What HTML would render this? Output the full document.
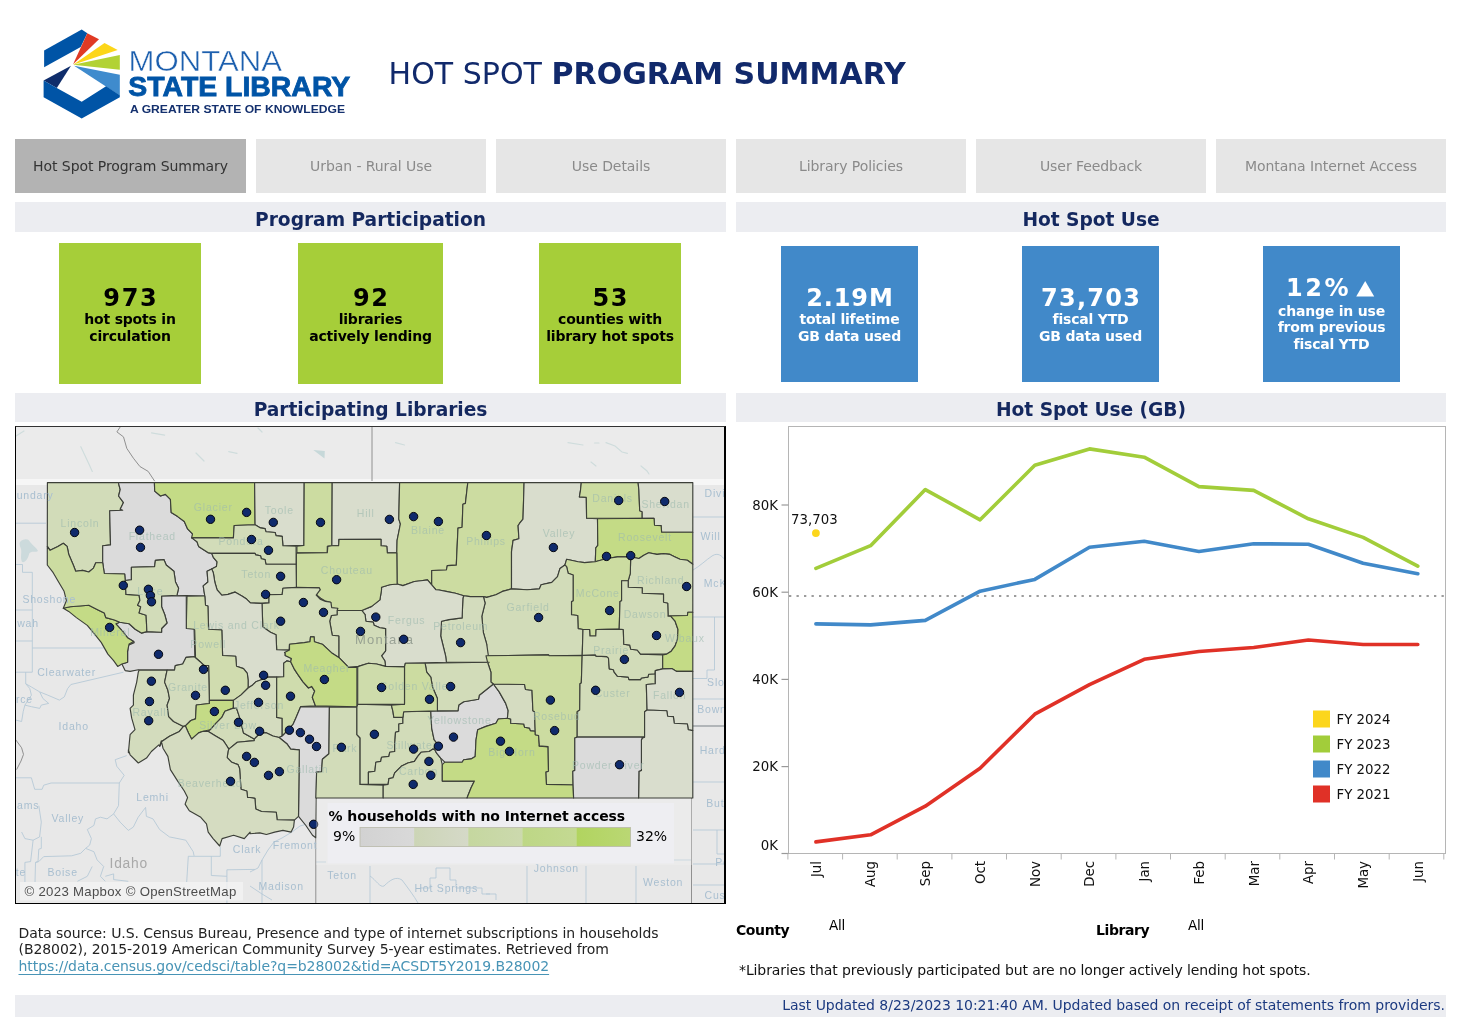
<!DOCTYPE html>
<html lang="en">
<head>
<meta charset="utf-8">
<title>Hot Spot Program Summary</title>
<style>
html,body{margin:0;padding:0;background:#fff;}
body{width:1461px;height:1034px;position:relative;overflow:hidden;font-family:"DejaVu Sans","Liberation Sans",sans-serif;color:#222;}
.abs{position:absolute;}
.tab{position:absolute;top:139px;height:54px;background:#e6e6e6;color:#8a8a8a;font-size:14px;line-height:55px;text-align:center;letter-spacing:-0.07px;}
.tab.sel{background:#b3b3b3;color:#333;}
.hdr{position:absolute;height:29px;background:#ecedf1;color:#14285f;font-weight:bold;font-size:18.67px;line-height:33px;text-align:center;letter-spacing:-0.05px;}
.kpi{position:absolute;text-align:center;font-weight:bold;}
.kpi.g{background:#a6ce39;color:#000;width:142px;height:141px;top:243px;}
.kpi.b{background:#4189c9;color:#fff;width:137px;height:136px;top:246px;}
.kpi .n{position:absolute;left:-20px;right:-20px;font-size:24px;line-height:28px;letter-spacing:0.9px;text-indent:0.9px;}
.kpi .t{position:absolute;left:-20px;right:-20px;font-size:14px;line-height:17px;letter-spacing:-0.2px;}
.small{font-size:14px;}
</style>
</head>
<body>

<!-- LOGO -->
<svg class="abs" style="left:0;top:0" width="380" height="135" viewBox="0 0 380 135">
  <polygon points="44.1,50.5 81.7,29.6 87.3,33.2 80.7,46.9 44.1,67.2" fill="#0054a6"/>
  <polygon points="87.3,33.2 99,39.3 73.1,64.2" fill="#e03a24"/>
  <polygon points="104.5,43.1 117.7,49.9 73.1,64.7" fill="#fcd619"/>
  <polygon points="119.8,55 119.8,69.7 73.1,64.7" fill="#b2d234"/>
  <polygon points="74.1,65.7 119.8,74.8 119.8,95.6" fill="#3f8bcd"/>
  <polygon points="71,65.7 43.6,80.4 56.8,88" fill="#0f2d6b"/>
  <polygon points="43.6,80.4 56.8,88 81.7,101.7 106.1,86.2 119.8,95.2 119.8,97.2 81.7,118.5 43.6,97.2" fill="#0054a6"/>
  <text x="128.6" y="71.1" font-family="Liberation Sans, sans-serif" font-size="28.7" fill="#1c5fae" textLength="153.5" lengthAdjust="spacingAndGlyphs" stroke="#fff" stroke-width="0.45">MONTANA</text>
  <text x="128.3" y="95.6" font-family="Liberation Sans, sans-serif" font-weight="bold" font-size="27.4" fill="#0054a6" stroke="#0054a6" stroke-width="0.8" textLength="222" lengthAdjust="spacingAndGlyphs">STATE LIBRARY</text>
  <text x="130" y="113" font-family="Liberation Sans, sans-serif" font-weight="bold" font-size="10.3" fill="#14306e" textLength="215" lengthAdjust="spacingAndGlyphs">A GREATER STATE OF KNOWLEDGE</text>
</svg>

<div class="abs" id="title" style="left:388.6px;top:53.7px;font-size:30px;line-height:40px;color:#11296b;white-space:nowrap;letter-spacing:0.03px;">HOT SPOT <b>PROGRAM SUMMARY</b></div>

<!-- TABS -->
<div class="tab sel" style="left:15px;width:231px;">Hot Spot Program Summary</div>
<div class="tab" style="left:256px;width:230px;">Urban - Rural Use</div>
<div class="tab" style="left:496px;width:230px;">Use Details</div>
<div class="tab" style="left:736px;width:230px;">Library Policies</div>
<div class="tab" style="left:976px;width:230px;">User Feedback</div>
<div class="tab" style="left:1216px;width:230px;">Montana Internet Access</div>

<!-- HEADERS -->
<div class="hdr" style="left:15px;width:711px;top:202px;height:30px;line-height:35px;">Program Participation</div>
<div class="hdr" style="left:736px;width:710px;top:202px;height:30px;line-height:35px;">Hot Spot Use</div>
<div class="hdr" style="left:15px;width:711px;top:393px;">Participating Libraries</div>
<div class="hdr" style="left:736px;width:710px;top:393px;">Hot Spot Use (GB)</div>

<!-- KPIs -->
<div class="kpi g" style="left:59px;"><div class="n" style="top:40.7px;letter-spacing:1.7px;text-indent:1.7px;">973</div><div class="t" style="top:68px;">hot spots in<br>circulation</div></div>
<div class="kpi g" style="left:298px;width:145px;"><div class="n" style="top:40.7px;letter-spacing:1.7px;text-indent:1.7px;">92</div><div class="t" style="top:68px;">libraries<br>actively lending</div></div>
<div class="kpi g" style="left:539px;"><div class="n" style="top:40.7px;letter-spacing:1.7px;text-indent:1.7px;">53</div><div class="t" style="top:68px;">counties with<br>library hot spots</div></div>

<div class="kpi b" style="left:781px;"><div class="n" style="top:37.7px;">2.19M</div><div class="t" style="top:65.2px;">total lifetime<br>GB data used</div></div>
<div class="kpi b" style="left:1022px;"><div class="n" style="top:37.7px;letter-spacing:1.3px;text-indent:1.3px;">73,703</div><div class="t" style="top:65.2px;">fiscal YTD<br>GB data used</div></div>
<div class="kpi b" style="left:1263px;"><div class="n" style="top:28px;letter-spacing:2.6px;text-indent:-26px;">12%</div><svg class="abs" style="left:92.5px;top:35.3px" width="19" height="16" viewBox="0 0 19 16"><polygon points="9.2,0 18.2,15.6 0.2,15.6" fill="#fff"/></svg><div class="t" style="top:56.7px;line-height:16.4px;">change in use<br>from previous<br>fiscal YTD</div></div>

<!-- MAP -->
<div class="abs" id="map" style="left:15px;top:426px;width:708px;height:476px;border:1px solid #000;border-right-width:2px;border-top-color:#333;background:#e9e9e9;overflow:hidden;">
<!--MAPSVG-->
<svg width="708" height="476" viewBox="16 427 708 476" style="display:block">
<rect x="15" y="426" width="712" height="478" fill="#e8e8e8"/>
<rect x="15" y="426" width="712" height="54" fill="#ebebeb"/>
<line x1="15" y1="482" x2="727" y2="482" stroke="#f6f6f6" stroke-width="6"/>
<g stroke="#b4c8d6" stroke-width="0.85" fill="none">
<path d="M15,523.2H46"/>
<path d="M15,564.5H22.5V572.3H32.3V590"/>
<path d="M32.3,590V672.2H15"/>
<path d="M15,610H32.3"/>
<path d="M15,641H32.3"/>
<path d="M32.3,648H103.8"/>
<path d="M25.7,672.2V683.7"/>
<path d="M25.7,683.7L31.4,687 39.7,691.9 47.9,695.2 59.4,700.1 64.3,696.9 67.6,688.6 70.9,684.5 123.5,672.2"/>
<path d="M25.7,683.7L29.8,688.6 31.4,695.2 24.9,705.1 23.2,711.6 21.6,721.5 15,719.9"/>
<path d="M39.7,691.9L42.9,698.5 48.7,703.4 41.3,705.1 39.7,708.4 31.4,706.7 24.9,705.1"/>
<path d="M15,777.8H31.4L34.7,789.3H42.1L43.7,785.2 51.1,783H119.3"/>
<path d="M126.7,755.6L115.2,759.7 116.8,766.3 124.2,775.3 119.3,783 118.5,805.7 113.6,813.9 107,818.9 100.4,817.2 95.5,818.9 93.9,825.4 87.3,829.5 91.4,838.6 89.7,845.1 85.6,848.4 80.7,853.3 71.7,855.8 43.7,856.6 38.8,861.6 35.5,862.4 35,882"/>
<path d="M113.6,813.9L120.1,822.1 128.3,830.4 133.3,827.1 138.2,817.2 145.6,807.4 146.4,816.4 153,818.9 159.6,829.5 169.4,836.9 185.8,840.2 193.2,851.7 194.1,855.8"/>
<path d="M85.6,848.4L93.9,851.7 97.1,859.9 103.7,866.5 100.4,876.3 105.3,881.3"/>
<path d="M92.2,866.5L87.3,876.3 77.4,881.3"/>
<path d="M105.3,876.3L113.6,873.9V879.6L128.3,881.3"/>
<path d="M38.8,805.7L41.3,822.1 39.6,836.9 33.1,840.2 24.9,838.6 21.6,832"/>
<path d="M41.3,836.9V848.4L38.8,849.2 38,861.6 35.5,862.4"/>
<path d="M33.1,840.2L30.6,861.6 24.9,862.4V882"/>
<path d="M186.7,882L188.3,856.3H220.3V846.8"/>
<path d="M211.3,856.3V875.5L226.9,876.3V869.8L254.8,869.4"/>
<path d="M226.9,876.3V903"/>
<path d="M316,862H326"/>
<path d="M262,903V860L268,850 274,842 282,838 292,832 300,826 314,822"/>
<path d="M250,872L258,868 262,860"/>
<path d="M250,886L262,894 272,900"/>
<path d="M370,866V903"/>
<path d="M370,876C376,880 380,888 384,886 390,880 396,876 402,880 408,888 414,896 418,903"/>
<path d="M420,888H430V878H436V868H450V880H456V888H482V894H490"/>
<path d="M527,866V903"/>
<path d="M586,866V903"/>
<path d="M636,866V903"/>
<path d="M486,894H496V900"/>
<path d="M674,860H691"/>
<path d="M693,782H725"/>
<path d="M693,517H725"/>
<path d="M693,617H725"/>
<path d="M714.5,617V670H707V678.5H693"/>
<path d="M693,699H725"/>
<path d="M693,726H725"/>
<path d="M693,830H725"/>
<path d="M717,830V854H725"/>
<path d="M693,864H725"/>
<path d="M693,885H725"/>
<path d="M693,570C700,566 706,560 712,556 718,552 722,556 725,560"/>
</g>
<g stroke="#909090" stroke-width="1" fill="none">
<line x1="372" y1="427" x2="372" y2="481"/>
<path d="M120.2,427L116.9,431.9 123.5,436.9 126.8,448.4 133.4,458.2 139.9,466.5 148.2,471.4 154.7,481.2"/>
<line x1="315.8" y1="798" x2="315.8" y2="904"/>
<line x1="691.5" y1="798" x2="691.5" y2="904"/>
<line x1="693" y1="726" x2="727" y2="726"/>
<path d="M15,738.8L21.6,747.8 23.5,754.4 21,761 16.6,769.6"/>
</g>
<g fill="none" stroke="#c6d8d8" stroke-width="1.2" stroke-linecap="round" opacity="0.75">
<path d="M80.8,446.7L88,462 92.3,471.4"/>
<path d="M151.5,432.8L164.6,435.2"/>
<path d="M196,453L204,461"/>
<path d="M228.7,451.7L237,453.3"/>
<path d="M395.5,442.6L404.5,445"/>
<path d="M568,442.6L583,445"/>
<path d="M594.5,443H599"/>
<path d="M606,442.6L615,446 622,452 627.4,453.3"/>
<path d="M591,462L596,466"/>
<path d="M641,466L647,471 649,474"/>
<path d="M16,436L24,431"/>
<path d="M258,428L262,432"/>
</g>
<path d="M313.3,450L324.8,451 324.5,458.5Z" fill="#c6d8d9"/>
<path d="M20,542c3,-3 8,-4 10,0 2,3 6,5 8,9 -3,2 -7,-1 -9,3 -1,5 -4,9 -7,8 -2,-5 0,-9 -1,-13 -1,-3 -2,-5 -1,-7z" fill="#c4d6d8" opacity="0.8"/>
<g stroke="#3c3f38" stroke-width="1.15" stroke-linejoin="round">
<polygon points="47.4,482.6 118.6,482.6 118.6,483.7 120.2,489.5 118.6,496.0 123.5,502.6 120.2,509.2 122.7,510.3 109.7,510.8 110.5,544.9 102.7,545.7 102.7,562.7 95.8,562.7 93.5,568.1 88.8,572.0 82.6,570.4 75.7,571.2 73.3,565.0 68.7,554.2 67.1,546.4 63.3,543.3 57.9,546.4 50.1,550.3 47.3,546.4" fill="#d2dcb9"><title>Lincoln</title></polygon>
<polygon points="118.6,482.6 154.4,482.6 154.7,491.1 160.5,496.0 165.4,494.4 170.4,499.3 171.2,512.5 177.7,516.6 184.3,521.5 187.6,528.9 192.5,533.9 192.5,538.0 197.0,541.8 198.6,546.4 203.2,549.5 207.9,552.6 211.7,553.4 213.3,557.3 217.1,561.9 216.4,566.6 211.7,568.9 207.1,571.2 207.9,582.0 203.2,585.9 204.8,596.0 177.0,595.2 178.6,588.2 175.5,582.0 173.9,571.2 166.2,565.0 163.9,559.6 155.4,560.4 154.6,566.6 131.4,567.3 131.4,579.7 125.2,580.5 124.7,574.0 104.3,573.5 102.7,562.7 102.7,545.7 110.5,544.9 109.7,510.8 122.7,510.3 120.2,509.2 123.5,502.6 118.6,496.0 120.2,489.5 118.6,483.7" fill="#dbdbdb"><title>Flathead</title></polygon>
<polygon points="154.4,482.6 254.6,482.6 255.1,524.8 234.2,525.5 233.4,537.9 191.6,537.9 192.5,533.9 187.6,528.9 184.3,521.5 177.7,516.6 171.2,512.5 170.4,499.3 165.4,494.4 160.5,496.0 154.7,491.1" fill="#c4db86"><title>Glacier</title></polygon>
<polygon points="254.6,482.6 304.2,482.6 303.9,545.4 282.9,545.7 282.2,536.4 276.0,535.6 275.2,532.5 265.9,531.7 265.1,528.6 260.5,527.9 255.1,524.8" fill="#d9ddcd"><title>Toole</title></polygon>
<polygon points="304.2,482.6 332.2,482.6 331.9,545.7 327.3,546.2 327.3,552.8 296.9,552.8 296.9,546.2 303.9,545.4" fill="#ccdca1"><title>Liberty</title></polygon>
<polygon points="332.2,482.6 399.6,482.6 398.8,519.1 400.4,524.0 397.1,540.4 396.8,552.8 387.3,552.8 386.8,546.2 381.0,545.7 381.0,539.3 338.8,539.3 338.8,545.4 331.9,545.7" fill="#d9ddcd"><title>Hill</title></polygon>
<polygon points="399.6,482.6 467.8,482.6 467.0,489.5 465.4,503.4 462.9,504.3 462.1,527.3 458.0,528.1 456.3,565.1 447.3,565.6 446.4,570.0 431.7,570.5 431.7,584.8 427.5,579.9 421.0,580.7 414.4,581.5 402.9,585.6 397.1,584.0 396.8,552.8 397.1,540.4 400.4,524.0 398.8,519.1" fill="#ccdca1"><title>Blaine</title></polygon>
<polygon points="467.8,482.6 524.1,482.6 523.0,519.1 519.7,523.2 518.1,525.6 518.9,538.8 513.1,540.4 511.5,551.9 511.5,588.9 502.4,591.4 495.9,594.7 486.7,597.4 483.4,596.6 470.3,596.6 463.7,595.8 455.5,593.3 447.3,591.6 439.1,590.0 435.8,589.7 431.7,584.8 431.7,570.5 446.4,570.0 447.3,565.6 456.3,565.1 458.0,528.1 462.1,527.3 462.9,504.3 465.4,503.4 467.0,489.5" fill="#ccdca1"><title>Phillips</title></polygon>
<polygon points="524.1,482.6 581.3,482.6 580.5,490.3 579.4,496.9 586.3,497.4 586.6,518.2 597.5,518.7 597.8,545.4 595.8,547.8 595.3,561.8 584.6,562.6 578.1,561.8 566.6,559.3 564.9,565.1 560.0,568.4 557.5,576.6 551.8,582.4 541.1,584.8 539.4,588.9 527.1,589.7 511.5,588.9 511.5,551.9 513.1,540.4 518.9,538.8 518.1,525.6 519.7,523.2 523.0,519.1" fill="#d9ddcd"><title>Valley</title></polygon>
<polygon points="581.3,482.6 638.1,482.6 638.9,490.3 639.7,510.8 642.2,511.7 642.2,518.2 586.6,518.2 586.3,497.4 579.4,496.9 580.5,490.3" fill="#ccdca1"><title>Daniels</title></polygon>
<polygon points="638.1,482.6 692.8,482.6 692.8,532.2 661.6,532.2 661.1,525.6 654.5,525.3 654.0,518.2 642.2,518.2 642.2,511.7 639.7,510.8 638.9,490.3" fill="#d9ddcd"><title>Sheridan</title></polygon>
<polygon points="597.5,518.7 654.0,518.2 654.5,525.3 661.1,525.6 661.6,532.2 692.8,532.2 692.8,564.3 687.4,560.2 680.0,559.3 675.1,556.9 670.1,554.4 663.5,553.6 657.0,554.4 648.7,552.8 643.8,555.2 638.9,558.5 630.7,556.9 617.5,556.9 606.8,558.5 597.8,561.0 595.3,561.8 595.8,547.8 597.8,545.4" fill="#c4db86"><title>Roosevelt</title></polygon>
<polygon points="630.7,556.9 638.9,558.5 643.8,555.2 648.7,552.8 657.0,554.4 663.5,553.6 670.1,554.4 675.1,556.9 680.0,559.3 687.4,560.2 692.8,564.3 692.8,612.2 687.9,612.2 687.4,615.5 668.1,616.0 667.7,603.2 663.5,602.3 663.5,594.1 642.2,593.3 642.2,587.8 628.2,587.3 628.2,580.7 630.3,573.3" fill="#d2dcb9"><title>Richland</title></polygon>
<polygon points="566.6,559.3 578.1,561.8 584.6,562.6 595.3,561.8 597.8,561.0 606.8,558.5 617.5,556.9 630.7,556.9 630.3,573.3 628.2,580.7 621.6,580.7 621.6,600.7 620.0,601.5 619.2,629.1 596.1,629.5 595.8,636.0 589.9,636.0 589.6,629.5 583.0,629.5 578.1,628.6 577.7,615.5 571.5,614.7 571.5,601.5 573.1,600.7 573.1,575.0 568.2,573.3 566.6,566.7 564.9,565.1" fill="#ccdca1"><title>McCone</title></polygon>
<polygon points="564.9,565.1 566.6,566.7 568.2,573.3 573.1,575.0 573.1,600.7 571.5,601.5 571.5,614.7 577.7,615.5 578.1,628.6 583.0,629.5 582.2,655.4 549.3,655.8 548.5,654.9 486.0,655.8 486.7,644.2 483.4,632.7 481.8,616.3 485.1,603.2 483.4,596.6 486.7,597.4 495.9,594.7 502.4,591.4 511.5,588.9 527.1,589.7 539.4,588.9 541.1,584.8 551.8,582.4 557.5,576.6 560.0,568.4" fill="#d2dcb9"><title>Garfield</title></polygon>
<polygon points="462.9,598.2 463.7,595.8 470.3,596.6 483.4,596.6 485.1,603.2 481.8,616.3 483.4,632.7 486.7,644.2 488.4,655.8 489.2,662.3 446.4,662.3 445.6,655.8 440.7,636.0 441.5,621.2 448.9,619.6 462.1,617.9" fill="#d3dcbd"><title>Petroleum</title></polygon>
<polygon points="381.5,587.3 389.7,584.8 397.1,584.0 402.9,585.6 414.4,581.5 421.0,580.7 427.5,579.9 431.7,584.8 435.8,589.7 439.1,590.0 447.3,591.6 455.5,593.3 463.7,595.8 462.9,598.2 462.1,617.9 448.9,619.6 441.5,621.2 440.7,636.0 445.6,655.8 446.4,662.3 405.4,663.2 404.5,666.9 385.6,666.4 384.8,660.7 381.5,655.8 385.6,650.8 385.6,628.6 379.9,627.8 374.1,625.3 373.3,622.1 365.9,621.2 365.1,614.7 361.8,610.5 371.7,606.4 379.9,599.9 381.5,590.0" fill="#d9ddcd"><title>Fergus</title></polygon>
<polygon points="337.1,610.5 361.8,610.5 365.1,614.7 365.9,621.2 373.3,622.1 374.1,625.3 379.9,627.8 385.6,628.6 385.6,650.8 381.5,655.8 384.8,660.7 385.6,666.4 376.6,664.0 368.4,663.2 358.5,666.4 348.6,667.3 338.8,657.4 338.8,636.0 332.2,635.2 329.7,621.2 331.4,615.5 337.1,614.7" fill="#d2dcb9"><title>Judith Basin</title></polygon>
<polygon points="296.4,553.1 327.3,552.6 327.8,546.4 331.7,545.7 338.6,545.7 339.1,539.5 381.0,539.3 381.0,545.7 386.8,546.2 387.3,552.8 396.8,552.8 397.1,584.0 389.7,584.8 381.5,587.3 381.5,590.0 379.9,599.9 371.7,606.4 361.8,610.5 337.1,610.5 337.1,608.9 330.6,608.1 330.6,602.3 324.8,600.7 320.7,598.2 316.6,594.9 318.2,590.0 320.1,589.8 319.3,587.9 296.4,587.4" fill="#ccdca1"><title>Chouteau</title></polygon>
<polygon points="191.6,537.9 233.4,537.9 234.2,525.5 255.1,524.8 260.5,527.9 265.1,528.6 265.9,531.7 275.2,532.5 276.0,535.6 282.2,536.4 282.9,545.7 296.1,546.1 296.1,564.2 265.9,564.2 265.1,559.6 261.3,558.8 260.5,555.7 255.8,554.9 255.1,553.4 211.7,553.4 207.9,552.6 203.2,549.5 198.6,546.4 197.0,541.8" fill="#d2dcb9"><title>Pondera</title></polygon>
<polygon points="211.7,553.4 255.1,553.4 255.8,554.9 260.5,555.7 261.3,558.8 265.1,559.6 265.9,564.2 296.1,564.2 296.4,587.4 282.9,588.2 282.2,594.4 269.0,594.7 269.0,602.9 262.0,603.4 250.4,602.9 246.6,599.1 241.9,596.0 234.9,592.1 228.0,594.4 221.8,595.2 217.1,589.8 214.8,582.0 213.3,572.7 211.7,568.9 216.4,566.6 217.1,561.9 213.3,557.3" fill="#d2dcb9"><title>Teton</title></polygon>
<polygon points="269.0,594.7 282.2,594.4 282.9,588.2 296.4,587.4 319.3,587.9 320.1,589.8 316.2,595.2 320.1,599.1 325.5,601.4 330.9,602.2 331.7,607.6 337.9,608.3 337.1,610.5 337.1,614.7 331.4,615.5 329.7,621.2 332.2,635.2 338.8,636.0 338.8,657.4 332.2,653.3 322.3,644.2 314.4,641.8 314.1,636.9 310.5,636.9 310.0,641.8 304.2,642.6 289.5,644.2 289.1,650.1 276.7,649.8 276.0,634.7 270.5,632.3 265.1,628.5 262.8,626.9 262.0,603.4 269.0,602.9" fill="#d2dcb9"><title>Cascade</title></polygon>
<polygon points="211.7,568.9 213.3,572.7 214.8,582.0 217.1,589.8 221.8,595.2 228.0,594.4 234.9,592.1 241.9,596.0 246.6,599.1 250.4,602.9 262.0,603.4 262.8,626.9 265.1,628.5 270.5,632.3 276.0,634.7 276.7,649.8 289.1,650.1 285.2,653.2 285.2,655.5 291.4,658.6 290.7,661.7 286.8,660.9 283.7,663.2 283.7,676.8 276.7,677.1 268.2,677.1 262.0,679.5 255.8,681.8 252.7,684.9 248.1,688.0 248.1,680.2 247.3,673.3 243.5,668.6 236.5,666.3 235.7,656.3 222.6,655.5 221.8,630.0 208.6,629.2 207.9,606.0 205.5,605.2 204.8,596.0 203.2,585.9 207.9,582.0 207.1,571.2" fill="#d9ddcd"><title>Lewis and Clark</title></polygon>
<polygon points="187.0,596.3 203.2,596.0 204.8,596.0 205.5,605.2 207.9,606.0 208.6,629.2 221.8,630.0 222.6,655.5 235.7,656.3 236.5,666.3 243.5,668.6 247.3,673.3 248.1,680.2 248.1,688.0 241.1,694.9 233.4,700.4 209.4,700.4 208.6,665.5 204.0,665.5 200.1,661.7 194.7,657.0 195.5,656.3 194.7,629.7 186.2,629.2" fill="#d0dcaf"><title>Powell</title></polygon>
<polygon points="161.6,596.0 186.3,596.0 186.3,628.5 194.1,629.2 194.8,655.5 195.0,656.6 186.0,657.4 182.7,664.0 175.3,665.6 174.5,670.1 139.1,670.1 138.3,669.7 130.1,671.4 125.1,670.6 121.9,664.0 127.6,662.3 127.6,652.5 128.4,645.1 134.2,642.6 133.7,641.6 127.5,637.7 122.9,631.6 115.9,623.8 119.8,622.3 129.1,623.8 135.2,629.2 141.4,633.1 146.9,631.6 161.6,632.3 161.6,628.5 167.0,623.0 164.7,614.5 161.6,606.8" fill="#dbdbdb"><title>Missoula</title></polygon>
<polygon points="63.3,608.3 70.2,606.8 79.5,606.0 88.8,605.2 98.1,609.9 104.3,613.0 105.8,617.6 114.4,620.0 119.8,622.3 115.9,623.8 122.9,631.6 127.5,637.7 133.7,641.6 129.1,643.9 127.5,651.7 127.6,652.5 127.6,662.3 121.9,664.0 117.7,666.4 113.6,660.7 107.9,654.1 101.2,642.4 95.0,634.7 87.3,625.4 76.4,617.6 68.7,611.4" fill="#c4db86"><title>Mineral</title></polygon>
<polygon points="47.3,546.4 50.1,550.3 57.9,546.4 63.3,543.3 67.1,546.4 68.7,554.2 73.3,565.0 75.7,571.2 82.6,570.4 88.8,572.0 93.5,568.1 95.8,562.7 102.7,562.7 104.3,573.5 124.7,574.0 125.2,580.5 126.0,594.4 139.1,595.2 139.9,600.6 137.6,605.2 140.7,606.8 139.1,613.0 146.1,615.3 146.9,631.6 141.4,633.1 135.2,629.2 129.1,623.8 119.8,622.3 114.4,620.0 105.8,617.6 104.3,613.0 98.1,609.9 88.8,605.2 79.5,606.0 70.2,606.8 63.3,608.3 66.4,600.6 64.1,591.3 58.6,582.0 53.2,572.7 47.3,565.0" fill="#ccdca1"><title>Sanders</title></polygon>
<polygon points="125.2,580.5 131.4,579.7 131.4,567.3 154.6,566.6 155.4,560.4 163.9,559.6 166.2,565.0 173.9,571.2 175.5,582.0 178.6,588.2 177.0,595.2 161.6,596.0 161.6,606.8 164.7,614.5 167.0,623.0 161.6,628.5 161.6,632.3 146.9,631.6 146.1,615.3 139.1,613.0 140.7,606.8 137.6,605.2 139.9,600.6 139.1,595.2 126.0,594.4" fill="#d2dcb9"><title>Lake</title></polygon>
<polygon points="139.1,670.1 167.1,670.1 164.6,682.1 167.9,690.3 169.5,698.5 167.1,705.1 168.7,716.6 173.6,721.5 183.5,726.4 179.4,731.4 169.5,736.3 162.1,741.2 159.7,746.2 158.8,744.9 151.4,751.5 146.5,758.1 138.3,763.0 130.1,754.8 128.4,749.9 128.4,752.7 129.3,742.9 130.1,734.7 135.0,729.7 131.7,718.2 130.1,708.4 133.4,705.1 133.4,695.2 136.7,682.1 138.3,672.2" fill="#d3dcbd"><title>Ravalli</title></polygon>
<polygon points="167.1,670.1 174.5,670.1 175.3,665.6 182.7,664.0 186.0,657.4 195.0,656.6 194.7,657.0 200.1,661.7 204.0,665.5 208.6,665.5 209.4,703.5 196.3,705.0 195.5,718.9 190.8,720.5 185.4,725.9 183.5,726.4 173.6,721.5 168.7,716.6 167.1,705.1 169.5,698.5 167.9,690.3 164.6,682.1" fill="#d3dcbd"><title>Granite</title></polygon>
<polygon points="196.3,705.0 209.4,703.5 209.4,700.4 233.4,700.4 233.4,708.1 224.9,711.2 221.8,717.4 215.6,723.6 210.2,729.8 203.2,731.3 198.6,732.9 191.6,739.1 188.5,732.9 185.4,725.9 190.8,720.5 195.5,718.9" fill="#c4db86"><title>Deer Lodge</title></polygon>
<polygon points="233.4,708.1 236.5,708.1 239.6,717.4 241.9,726.7 243.5,732.9 254.3,739.1 254.3,740.6 237.3,742.2 228.8,749.1 226.4,745.2 223.3,740.6 215.6,736.0 207.9,731.3 210.2,729.8 215.6,723.6 221.8,717.4 224.9,711.2" fill="#d2dcb9"><title>Silver Bow</title></polygon>
<polygon points="233.4,700.4 241.1,694.9 248.1,688.0 252.7,684.9 255.8,681.8 262.0,679.5 268.2,677.1 276.7,677.1 276.7,717.4 282.2,718.2 282.2,736.0 279.1,737.5 272.9,736.0 266.7,732.9 259.7,732.9 257.4,736.0 254.3,739.1 243.5,732.9 241.9,726.7 239.6,717.4 236.5,708.1 233.4,708.1" fill="#d4dcbf"><title>Jefferson</title></polygon>
<polygon points="276.7,677.1 283.7,676.8 283.7,663.2 286.8,660.9 290.7,661.7 294.5,669.4 297.6,674.1 303.0,681.8 308.5,688.0 311.6,686.4 314.7,691.1 312.3,697.3 315.4,705.8 300.7,706.6 296.1,717.4 293.0,724.4 286.8,731.3 282.2,736.0 282.2,718.2 276.7,717.4" fill="#cfdcad"><title>Broadwater</title></polygon>
<polygon points="289.5,644.2 304.2,642.6 310.0,641.8 310.5,636.9 314.1,636.9 314.4,641.8 322.3,644.2 332.2,653.3 338.8,657.4 348.6,667.3 356.9,667.3 356.9,706.7 315.8,705.9 315.4,705.8 312.3,697.3 314.7,691.1 311.6,686.4 308.5,688.0 303.0,681.8 297.6,674.1 294.5,669.4 290.7,661.7 291.4,658.6 285.2,655.5 285.2,653.2 284.5,652.5 289.5,650.0" fill="#c4db86"><title>Meagher</title></polygon>
<polygon points="300.7,706.6 329.4,706.9 328.9,753.8 322.4,759.2 321.6,771.6 316.2,772.3 316.6,772.1 315.8,837.8 312.5,835.3 305.9,825.5 298.5,816.4 299.3,749.9 299.2,749.9 290.7,749.1 286.8,743.7 279.1,737.5 282.2,736.0 286.8,731.3 293.0,724.4 296.1,717.4" fill="#dbdbdb"><title>Gallatin</title></polygon>
<polygon points="228.8,749.1 237.3,742.2 254.3,740.6 254.3,739.1 257.4,736.0 259.7,732.9 266.7,732.9 272.9,736.0 279.1,737.5 286.8,743.7 290.7,749.1 299.2,749.9 299.3,749.9 298.5,816.4 294.4,820.1 277.1,819.7 276.3,812.3 261.5,811.5 255.8,809.0 254.9,798.4 250.0,797.5 247.6,797.5 246.8,791.0 241.0,789.3 239.6,768.5 238.0,764.6 231.8,762.3 227.2,757.6 228.0,751.4" fill="#d3dcbd"><title>Madison</title></polygon>
<polygon points="161.3,740.8 163.0,748.2 167.9,756.4 170.4,769.6 177.7,781.1 184.3,791.0 187.6,797.5 185.1,804.1 189.3,810.7 200.8,817.3 206.5,823.8 208.2,832.1 213.1,838.6 219.7,846.0 222.1,838.6 233.6,835.3 244.3,838.6 250.1,832.1 250.0,833.7 259.9,832.9 266.4,834.5 274.7,832.1 282.9,830.4 291.1,832.1 293.6,827.1 294.4,820.1 277.1,819.7 276.3,812.3 261.5,811.5 255.8,809.0 254.9,798.4 250.0,797.5 247.6,797.5 246.8,791.0 241.0,789.3 239.6,768.5 238.0,764.6 231.8,762.3 227.2,757.6 228.0,751.4 228.8,749.1 226.4,745.2 223.3,740.6 215.6,736.0 207.9,731.3 203.2,731.3 198.6,732.9 191.6,739.1 188.5,732.9 185.4,725.9 183.5,726.4 179.4,731.4 169.5,736.3 162.1,741.2 159.7,746.2" fill="#d5dcc1"><title>Beaverhead</title></polygon>
<polygon points="329.4,706.9 356.4,707.3 356.9,707.0 356.9,734.7 360.1,738.0 360.1,740.0 360.1,784.4 383.2,785.2 383.2,798.0 315.8,798.0 316.6,772.1 316.2,772.3 321.6,771.6 322.4,759.2 328.9,753.8" fill="#d2dcb9"><title>Park</title></polygon>
<polygon points="357.7,704.3 391.4,705.1 393.0,711.7 393.8,717.4 402.9,717.4 402.9,723.2 398.8,724.0 398.8,731.4 395.5,732.2 394.7,744.5 394.7,751.5 389.7,752.3 388.9,756.4 381.5,757.3 380.7,761.4 375.8,762.2 374.9,771.2 368.4,772.1 368.4,784.4 360.1,784.4 360.1,740.0 360.1,738.0 356.9,734.7 356.9,707.0" fill="#d2dcb9"><title>Sweet Grass</title></polygon>
<polygon points="403.7,711.7 430.8,711.3 431.7,728.1 434.1,739.6 439.1,746.2 434.1,748.2 429.2,751.5 421.0,752.3 417.7,756.4 414.4,761.4 407.8,763.0 401.2,766.3 394.7,772.9 393.0,777.8 388.9,778.6 388.1,784.4 368.4,784.4 368.4,772.1 374.9,771.2 375.8,762.2 380.7,761.4 381.5,757.3 388.9,756.4 389.7,752.3 394.7,751.5 394.7,744.5 395.5,732.2 398.8,731.4 398.8,724.0 402.9,723.2 402.9,717.4" fill="#d2dcb9"><title>Stillwater</title></polygon>
<polygon points="434.1,748.2 436.6,753.2 440.7,758.1 442.3,764.7 442.3,781.1 474.4,781.1 471.1,787.7 467.0,798.0 383.2,798.0 383.2,785.2 388.1,784.4 388.9,778.6 393.0,777.8 394.7,772.9 401.2,766.3 407.8,763.0 414.4,761.4 417.7,756.4 421.0,752.3 429.2,751.5" fill="#d2dcb9"><title>Carbon</title></polygon>
<polygon points="430.8,711.3 458.0,710.8 458.8,705.1 463.7,701.8 478.5,699.3 479.3,695.2 493.4,684.0 499.2,691.9 505.7,703.4 508.2,710.8 507.4,718.2 498.3,719.0 495.9,723.2 486.0,726.4 477.7,729.7 476.0,740.0 475.2,756.4 471.1,758.9 463.7,759.7 462.1,762.2 444.8,762.2 440.7,758.1 436.6,753.2 434.1,748.2 439.1,746.2 434.1,739.6 431.7,728.1" fill="#dbdbdb"><title>Yellowstone</title></polygon>
<polygon points="486.0,726.4 495.9,723.2 498.3,719.0 507.4,718.2 510.7,719.0 510.7,723.2 523.8,724.0 524.6,727.3 529.6,728.1 530.4,730.6 535.3,731.0 535.3,734.7 538.6,735.5 539.4,746.2 548.5,747.0 548.1,746.6 548.5,771.2 546.0,772.1 546.5,784.4 573.1,784.7 573.6,798.0 467.0,798.0 471.1,787.7 474.4,781.1 442.3,781.1 442.3,764.7 444.8,762.2 462.1,762.2 463.7,759.7 471.1,758.9 475.2,756.4 476.0,740.0 477.7,729.7" fill="#c4db86"><title>Big Horn</title></polygon>
<polygon points="493.4,684.0 524.6,684.5 525.5,689.5 532.0,690.3 532.9,710.8 534.5,711.7 535.3,731.0 530.4,730.6 529.6,728.1 524.6,727.3 523.8,724.0 510.7,723.2 510.7,719.0 507.4,718.2 508.2,710.8 505.7,703.4 499.2,691.9" fill="#d5dcc1"><title>Treasure</title></polygon>
<polygon points="486.0,655.8 548.5,654.9 549.3,655.8 582.2,655.4 581.3,682.9 580.0,683.7 579.7,710.0 577.2,711.7 577.2,737.1 574.8,738.0 574.8,740.0 574.8,770.4 572.8,771.2 573.1,784.7 546.5,784.4 546.0,772.1 548.5,771.2 548.1,746.6 538.9,745.8 539.4,746.2 538.6,735.5 535.3,734.7 534.5,711.7 532.9,710.8 532.0,690.3 525.5,689.5 524.6,684.5 493.4,684.0 490.9,682.1 490.9,672.2 487.6,662.3" fill="#ccdca1"><title>Rosebud</title></polygon>
<polygon points="425.1,663.2 489.2,662.3 487.6,662.3 490.9,672.2 490.9,682.1 493.4,684.0 479.3,695.2 478.5,699.3 463.7,701.8 458.8,705.1 458.0,710.8 437.4,710.8 437.4,698.5 432.5,687.0 430.8,677.1 426.7,672.2" fill="#d2dcb9"><title>Musselshell</title></polygon>
<polygon points="405.4,663.2 425.1,663.2 426.7,672.2 430.8,677.1 432.5,687.0 437.4,698.5 437.4,710.8 403.7,711.7 402.9,717.4 393.8,717.4 393.0,711.7 391.4,705.1 404.5,704.3 404.5,666.9" fill="#ccdca1"><title>Golden Valley</title></polygon>
<polygon points="357.7,667.3 358.5,666.4 368.4,663.2 376.6,664.0 385.6,666.4 404.5,666.9 404.5,704.3 357.7,704.3" fill="#cedcab"><title>Wheatland</title></polygon>
<polygon points="582.2,655.4 595.3,654.9 596.1,656.1 606.8,656.6 608.5,658.2 609.3,668.9 613.4,669.7 614.2,672.2 617.5,676.3 628.2,677.1 629.0,679.6 640.5,679.6 641.4,678.0 647.9,677.1 648.7,674.2 655.0,673.8 655.3,670.6 655.3,683.7 646.3,684.5 647.1,710.0 644.6,711.7 644.6,737.1 577.2,737.1 577.2,711.7 579.7,710.0 580.0,683.7 581.3,682.9" fill="#d2dcb9"><title>Custer</title></polygon>
<polygon points="583.0,629.5 589.6,629.5 589.9,636.0 595.8,636.0 596.1,629.5 619.2,629.1 623.3,629.5 623.8,644.2 629.8,645.1 630.7,649.2 637.2,650.0 640.5,654.1 662.7,654.9 662.7,668.9 655.3,670.6 655.0,673.8 648.7,674.2 647.9,677.1 641.4,678.0 640.5,679.6 629.0,679.6 628.2,677.1 617.5,676.3 614.2,672.2 613.4,669.7 609.3,668.9 608.5,658.2 606.8,656.6 596.1,656.1 595.3,654.9 582.2,655.4" fill="#d2dcb9"><title>Prairie</title></polygon>
<polygon points="621.6,580.7 628.2,580.7 628.2,587.3 642.2,587.8 642.2,593.3 663.5,594.1 663.5,602.3 667.7,603.2 668.1,616.0 670.9,616.3 675.1,621.2 678.0,629.5 677.5,639.3 675.1,645.9 670.9,651.6 666.8,654.1 640.5,654.1 637.2,650.0 630.7,649.2 629.8,645.1 623.8,644.2 623.3,629.5 619.2,629.1 620.0,601.5 621.6,600.7" fill="#d2dcb9"><title>Dawson</title></polygon>
<polygon points="668.1,616.0 687.4,615.5 687.9,612.2 692.8,612.2 692.8,671.4 676.7,671.4 671.8,668.6 662.7,668.9 662.7,654.9 666.8,654.1 670.9,651.6 675.1,645.9 677.5,639.3 678.0,629.5 675.1,621.2 670.9,616.3" fill="#c4db86"><title>Wibaux</title></polygon>
<polygon points="655.3,670.6 662.7,668.9 671.8,668.6 676.7,671.4 692.8,671.4 692.8,730.6 688.2,729.7 687.4,724.0 674.2,723.2 673.4,716.6 667.7,716.3 666.8,710.8 647.1,710.0 646.3,684.5 655.3,683.7" fill="#d9ddcd"><title>Fallon</title></polygon>
<polygon points="644.6,711.7 647.1,710.0 666.8,710.8 667.7,716.3 673.4,716.6 674.2,723.2 687.4,724.0 688.2,729.7 692.8,730.6 692.8,798.0 638.6,798.0 638.9,771.2 641.4,770.4 641.4,740.0 642.2,738.0 644.6,737.1" fill="#d9ddcd"><title>Carter</title></polygon>
<polygon points="577.2,737.1 644.6,737.1 642.2,738.0 641.4,740.0 641.4,770.4 638.9,771.2 638.6,798.0 573.6,798.0 573.1,784.7 572.8,771.2 574.8,770.4 574.8,740.0 574.8,738.0" fill="#dbdbdb"><title>Powder River</title></polygon>
</g>
<g font-family="Liberation Sans, sans-serif" font-size="10.5" letter-spacing="0.8">
<g fill="#9dbaae" fill-opacity="0.62" text-anchor="middle">
<text x="80" y="526.5">Lincoln</text>
<text x="152.3" y="539.6">Flathead</text>
<text x="213.3" y="510.8">Glacier</text>
<text x="279.3" y="513.9">Toole</text>
<text x="365.7" y="517.4">Hill</text>
<text x="428" y="534.2">Blaine</text>
<text x="486" y="545">Phillips</text>
<text x="559" y="536.8">Valley</text>
<text x="612.6" y="501.8">Daniels</text>
<text x="665.6" y="507.5">Sheridan</text>
<text x="645" y="541.3">Roosevelt</text>
<text x="660.7" y="584">Richland</text>
<text x="597.8" y="596.5">McCone</text>
<text x="528.1" y="610.5">Garfield</text>
<text x="645" y="617.6">Dawson</text>
<text x="684.9" y="642.3">Wibaux</text>
<text x="611.2" y="654.1">Prairie</text>
<text x="612.6" y="696.9">Custer</text>
<text x="669.7" y="698.8">Fallon</text>
<text x="556.7" y="719.9">Rosebud</text>
<text x="511.9" y="756.2">Big Horn</text>
<text x="608.3" y="768.8">Powder River</text>
<text x="459.4" y="724">Yellowstone</text>
<text x="411.7" y="748.6">Stillwater</text>
<text x="418.5" y="775.3">Carbon</text>
<text x="345" y="751.9">Park</text>
<text x="307.5" y="772.9">Gallatin</text>
<text x="210" y="786.6">Beaverhead</text>
<text x="228" y="729">Silver Bow</text>
<text x="259" y="708.9">Jefferson</text>
<text x="326.9" y="671.9">Meagher</text>
<text x="416.9" y="690.3">Golden Valley</text>
<text x="406.6" y="623.5">Fergus</text>
<text x="460.8" y="629.5">Petroleum</text>
<text x="346.8" y="574.1">Chouteau</text>
<text x="256.2" y="578.2">Teton</text>
<text x="241.1" y="544.9">Pondera</text>
<text x="236.5" y="628.5">Lewis and Clark</text>
<text x="208.2" y="648.4">Powell</text>
<text x="188" y="691.1">Granite</text>
<text x="151" y="716.3">Ravalli</text>
<text x="110.3" y="635.7">Mineral</text>
<text x="150.3" y="595.2">Lake</text>
</g>
<text x="355" y="643.8" font-size="13" letter-spacing="1.25" fill="#8a9388" fill-opacity="0.8">Montana</text>
<g fill="#a9bfd0">
<text x="53.6" y="498.5" text-anchor="end">undary</text>
<text x="22.4" y="603.2" text-anchor="start">Shoshone</text>
<text x="38.8" y="626.5" text-anchor="end">wah</text>
<text x="37.2" y="675.5" text-anchor="start">Clearwater</text>
<text x="33" y="703.1" text-anchor="end">rce</text>
<text x="58.6" y="729.7" text-anchor="start">Idaho</text>
<text x="136.3" y="800.5" text-anchor="start">Lemhi</text>
<text x="51.5" y="822.2" text-anchor="start">Valley</text>
<text x="39.3" y="809" text-anchor="end">ams</text>
<text x="47.5" y="876.1" text-anchor="start">Boise</text>
<text x="26.2" y="876.1" text-anchor="end">te</text>
<text x="232.8" y="853.4" text-anchor="start">Clark</text>
<text x="272.7" y="849.3" text-anchor="start">Fremont</text>
<text x="327.3" y="879.4" text-anchor="start">Teton</text>
<text x="258.5" y="890.4" text-anchor="start">Madison</text>
<text x="414.4" y="892.1" text-anchor="start">Hot Springs</text>
<text x="533.7" y="872.3" text-anchor="start">Johnson</text>
<text x="643" y="886.3" text-anchor="start">Weston</text>
<text x="699.7" y="754.2" text-anchor="start">Hard</text>
<text x="706.3" y="806.6" text-anchor="start">But</text>
<text x="715.3" y="865.8" text-anchor="start">Pe</text>
<text x="704.6" y="898.6" text-anchor="start">Cus</text>
<text x="704.6" y="497.4" text-anchor="start">Divi</text>
<text x="700.5" y="540.4" text-anchor="start">Will</text>
<text x="703.8" y="587.3" text-anchor="start">McK</text>
<text x="707.1" y="685.7" text-anchor="start">Slo</text>
<text x="697.2" y="712.5" text-anchor="start">Bown</text>
</g>
<text x="109.5" y="868.2" font-size="13.8" fill="#a9a9a9">Idaho</text>
</g>
<g fill="#0f2a6c" stroke="#05070f" stroke-width="1">
<circle cx="74.6" cy="532.5" r="4.2"/>
<circle cx="139.6" cy="530.2" r="4.2"/>
<circle cx="140.5" cy="547.4" r="4.2"/>
<circle cx="123.3" cy="585.4" r="4.2"/>
<circle cx="148.4" cy="589.3" r="4.2"/>
<circle cx="150.4" cy="595.5" r="4.2"/>
<circle cx="151.5" cy="601.8" r="4.2"/>
<circle cx="109.6" cy="627.4" r="4.2"/>
<circle cx="158.5" cy="654.3" r="4.2"/>
<circle cx="210.5" cy="519.3" r="4.2"/>
<circle cx="246.6" cy="512.4" r="4.2"/>
<circle cx="273.3" cy="522.4" r="4.2"/>
<circle cx="320.5" cy="522.4" r="4.2"/>
<circle cx="251.5" cy="539.5" r="4.2"/>
<circle cx="268.5" cy="550.3" r="4.2"/>
<circle cx="280.6" cy="576.3" r="4.2"/>
<circle cx="265.6" cy="594.4" r="4.2"/>
<circle cx="336.6" cy="579.7" r="4.2"/>
<circle cx="303.4" cy="602.5" r="4.2"/>
<circle cx="323.5" cy="612.4" r="4.2"/>
<circle cx="280.6" cy="621.2" r="4.2"/>
<circle cx="389.4" cy="519.4" r="4.2"/>
<circle cx="413.6" cy="516.6" r="4.2"/>
<circle cx="438.4" cy="521.5" r="4.2"/>
<circle cx="486.4" cy="535.5" r="4.2"/>
<circle cx="553.4" cy="547.5" r="4.2"/>
<circle cx="618.7" cy="500.5" r="4.2"/>
<circle cx="664.7" cy="501.5" r="4.2"/>
<circle cx="606.5" cy="556.4" r="4.2"/>
<circle cx="630.7" cy="555.6" r="4.2"/>
<circle cx="686.6" cy="586.5" r="4.2"/>
<circle cx="151.4" cy="681.2" r="4.2"/>
<circle cx="149.5" cy="701.5" r="4.2"/>
<circle cx="148.7" cy="720.7" r="4.2"/>
<circle cx="203.5" cy="669.4" r="4.2"/>
<circle cx="195.5" cy="695.4" r="4.2"/>
<circle cx="225.3" cy="690.3" r="4.2"/>
<circle cx="214.4" cy="711.5" r="4.2"/>
<circle cx="238.5" cy="722.3" r="4.2"/>
<circle cx="263.6" cy="675.3" r="4.2"/>
<circle cx="265.6" cy="685.3" r="4.2"/>
<circle cx="258.5" cy="702.4" r="4.2"/>
<circle cx="259.6" cy="731.3" r="4.2"/>
<circle cx="290.5" cy="696.2" r="4.2"/>
<circle cx="324.4" cy="679.5" r="4.2"/>
<circle cx="289.4" cy="730.2" r="4.2"/>
<circle cx="300.4" cy="732.6" r="4.2"/>
<circle cx="309.5" cy="739.2" r="4.2"/>
<circle cx="316.5" cy="746.5" r="4.2"/>
<circle cx="341.4" cy="747.3" r="4.2"/>
<circle cx="246.6" cy="756.4" r="4.2"/>
<circle cx="254.4" cy="762.4" r="4.2"/>
<circle cx="268.5" cy="775.4" r="4.2"/>
<circle cx="279.4" cy="771.6" r="4.2"/>
<circle cx="230.5" cy="781.3" r="4.2"/>
<circle cx="375.8" cy="617.1" r="4.2"/>
<circle cx="360.5" cy="631.4" r="4.2"/>
<circle cx="403.7" cy="639.3" r="4.2"/>
<circle cx="460.6" cy="642.6" r="4.2"/>
<circle cx="381.5" cy="687.5" r="4.2"/>
<circle cx="450.6" cy="686.5" r="4.2"/>
<circle cx="429.5" cy="699.3" r="4.2"/>
<circle cx="374.4" cy="734.3" r="4.2"/>
<circle cx="413.6" cy="749.1" r="4.2"/>
<circle cx="438.4" cy="746.2" r="4.2"/>
<circle cx="453.5" cy="737.1" r="4.2"/>
<circle cx="538.6" cy="617.5" r="4.2"/>
<circle cx="609.6" cy="610.5" r="4.2"/>
<circle cx="656.5" cy="635.5" r="4.2"/>
<circle cx="624.4" cy="659.4" r="4.2"/>
<circle cx="595.6" cy="690.3" r="4.2"/>
<circle cx="679.5" cy="692.4" r="4.2"/>
<circle cx="550.4" cy="700.1" r="4.2"/>
<circle cx="554.6" cy="730.6" r="4.2"/>
<circle cx="500.5" cy="741.2" r="4.2"/>
<circle cx="509.5" cy="751.4" r="4.2"/>
<circle cx="428.9" cy="761.4" r="4.2"/>
<circle cx="430.8" cy="775.3" r="4.2"/>
<circle cx="413.2" cy="784.4" r="4.2"/>
<circle cx="313.6" cy="824.3" r="4.2"/>
<circle cx="619.5" cy="764.7" r="4.2"/>
</g>
<rect x="316" y="799" width="376" height="66" fill="#f4f4f6" fill-opacity="0.28"/>
<rect x="327.5" y="803" width="346.5" height="60.5" fill="#eeeef2" fill-opacity="0.93"/>
<text x="328.5" y="820.5" font-family="DejaVu Sans, Liberation Sans, sans-serif" font-weight="bold" font-size="14" fill="#000" letter-spacing="-0.07">% households with no Internet access</text>
<text x="333" y="840.6" font-family="DejaVu Sans, Liberation Sans, sans-serif" font-size="14" fill="#000">9%</text>
<text x="636" y="840.6" font-family="DejaVu Sans, Liberation Sans, sans-serif" font-size="14" fill="#000">32%</text>
<defs><linearGradient id="lg0" x1="0" x2="1" y1="0" y2="0"><stop offset="0" stop-color="#d2d2d2"/><stop offset="1" stop-color="#d9d9d9"/></linearGradient><linearGradient id="lg1" x1="0" x2="1" y1="0" y2="0"><stop offset="0" stop-color="#ccd5b6"/><stop offset="1" stop-color="#d5d9c8"/></linearGradient><linearGradient id="lg2" x1="0" x2="1" y1="0" y2="0"><stop offset="0" stop-color="#c5d79f"/><stop offset="1" stop-color="#ccd9ae"/></linearGradient><linearGradient id="lg3" x1="0" x2="1" y1="0" y2="0"><stop offset="0" stop-color="#bdd785"/><stop offset="1" stop-color="#c4d993"/></linearGradient><linearGradient id="lg4" x1="0" x2="1" y1="0" y2="0"><stop offset="0" stop-color="#b1d45f"/><stop offset="1" stop-color="#bad774"/></linearGradient></defs>
<rect x="360.0" y="827.5" width="54.3" height="19" fill="url(#lg0)"/>
<rect x="414.1" y="827.5" width="54.3" height="19" fill="url(#lg1)"/>
<rect x="468.2" y="827.5" width="54.3" height="19" fill="url(#lg2)"/>
<rect x="522.3" y="827.5" width="54.3" height="19" fill="url(#lg3)"/>
<rect x="576.4" y="827.5" width="54.3" height="19" fill="url(#lg4)"/>
<rect x="360" y="827.5" width="270.6" height="19" fill="none" stroke="#b9b9a9" stroke-width="0.8"/>
<rect x="20" y="882" width="223" height="18.5" fill="#f2f2f2" fill-opacity="0.8"/>
<text x="24.5" y="896" font-family="Liberation Sans, sans-serif" font-size="13.2" letter-spacing="0.3" fill="#4d4d4d">© 2023 Mapbox © OpenStreetMap</text>
</svg>
<!--/MAPSVG-->
</div>

<!-- CHART -->
<svg class="abs" id="chart" style="left:730px;top:420px;" width="731" height="480" viewBox="730 420 731 480" font-family="DejaVu Sans, Liberation Sans, sans-serif">
<!--CHARTSVG-->
<rect x="788.5" y="426.5" width="657" height="427" fill="#fff" stroke="#b5b5b5" stroke-width="1"/>
<line x1="789" y1="596" x2="1445" y2="596" stroke="#9c9c9c" stroke-width="2" stroke-dasharray="2.3,5.2"/>
<polyline points="815.9,841.9 870.6,834.8 925.3,806.2 980.1,768.2 1034.8,714.2 1089.5,684.7 1144.2,659.3 1198.9,651.5 1253.7,647.5 1308.4,640.0 1363.1,644.5 1417.8,644.5" fill="none" stroke="#e03127" stroke-width="3.6" stroke-linejoin="round" stroke-linecap="round"/>
<polyline points="815.9,623.9 870.6,624.9 925.3,620.4 980.1,591.2 1034.8,579.4 1089.5,547.2 1144.2,541.2 1198.9,551.5 1253.7,543.7 1308.4,544.2 1363.1,563.3 1417.8,573.8" fill="none" stroke="#4189c9" stroke-width="3.6" stroke-linejoin="round" stroke-linecap="round"/>
<polyline points="815.9,568.3 870.6,545.7 925.3,489.6 980.1,519.8 1034.8,465.2 1089.5,448.9 1144.2,457.2 1198.9,486.6 1253.7,490.4 1308.4,518.8 1363.1,537.4 1417.8,566.1" fill="none" stroke="#a2cd3a" stroke-width="3.6" stroke-linejoin="round" stroke-linecap="round"/>
<circle cx="815.9" cy="533.1" r="3.9" fill="#fcd61c"/>
<text x="791" y="523.6" font-size="13.33" fill="#111">73,703</text>
<line x1="781.5" y1="505" x2="788.5" y2="505" stroke="#999" stroke-width="1.2"/>
<text x="778" y="509.8" font-size="13.33" fill="#111" text-anchor="end">80K</text>
<line x1="781.5" y1="592.2" x2="788.5" y2="592.2" stroke="#999" stroke-width="1.2"/>
<text x="778" y="597.0" font-size="13.33" fill="#111" text-anchor="end">60K</text>
<line x1="781.5" y1="679.4" x2="788.5" y2="679.4" stroke="#999" stroke-width="1.2"/>
<text x="778" y="684.2" font-size="13.33" fill="#111" text-anchor="end">40K</text>
<line x1="781.5" y1="766.6" x2="788.5" y2="766.6" stroke="#999" stroke-width="1.2"/>
<text x="778" y="771.4" font-size="13.33" fill="#111" text-anchor="end">20K</text>
<line x1="781.5" y1="853.5" x2="788.5" y2="853.5" stroke="#999" stroke-width="1.2"/>
<text x="778" y="849.8" font-size="13.33" fill="#111" text-anchor="end">0K</text>
<line x1="787.9" y1="853.5" x2="787.9" y2="859.5" stroke="#b5b5b5" stroke-width="1"/>
<line x1="842.6" y1="853.5" x2="842.6" y2="859.5" stroke="#b5b5b5" stroke-width="1"/>
<line x1="897.2" y1="853.5" x2="897.2" y2="859.5" stroke="#b5b5b5" stroke-width="1"/>
<line x1="951.9" y1="853.5" x2="951.9" y2="859.5" stroke="#b5b5b5" stroke-width="1"/>
<line x1="1006.5" y1="853.5" x2="1006.5" y2="859.5" stroke="#b5b5b5" stroke-width="1"/>
<line x1="1061.2" y1="853.5" x2="1061.2" y2="859.5" stroke="#b5b5b5" stroke-width="1"/>
<line x1="1115.9" y1="853.5" x2="1115.9" y2="859.5" stroke="#b5b5b5" stroke-width="1"/>
<line x1="1170.5" y1="853.5" x2="1170.5" y2="859.5" stroke="#b5b5b5" stroke-width="1"/>
<line x1="1225.2" y1="853.5" x2="1225.2" y2="859.5" stroke="#b5b5b5" stroke-width="1"/>
<line x1="1279.8" y1="853.5" x2="1279.8" y2="859.5" stroke="#b5b5b5" stroke-width="1"/>
<line x1="1334.5" y1="853.5" x2="1334.5" y2="859.5" stroke="#b5b5b5" stroke-width="1"/>
<line x1="1389.2" y1="853.5" x2="1389.2" y2="859.5" stroke="#b5b5b5" stroke-width="1"/>
<line x1="1443.8" y1="853.5" x2="1443.8" y2="859.5" stroke="#b5b5b5" stroke-width="1"/>
<text transform="translate(820.7,861) rotate(-90)" font-size="13.33" fill="#111" text-anchor="end">Jul</text>
<text transform="translate(875.4,861) rotate(-90)" font-size="13.33" fill="#111" text-anchor="end">Aug</text>
<text transform="translate(930.1,861) rotate(-90)" font-size="13.33" fill="#111" text-anchor="end">Sep</text>
<text transform="translate(984.9,861) rotate(-90)" font-size="13.33" fill="#111" text-anchor="end">Oct</text>
<text transform="translate(1039.6,861) rotate(-90)" font-size="13.33" fill="#111" text-anchor="end">Nov</text>
<text transform="translate(1094.3,861) rotate(-90)" font-size="13.33" fill="#111" text-anchor="end">Dec</text>
<text transform="translate(1149.0,861) rotate(-90)" font-size="13.33" fill="#111" text-anchor="end">Jan</text>
<text transform="translate(1203.7,861) rotate(-90)" font-size="13.33" fill="#111" text-anchor="end">Feb</text>
<text transform="translate(1258.5,861) rotate(-90)" font-size="13.33" fill="#111" text-anchor="end">Mar</text>
<text transform="translate(1313.2,861) rotate(-90)" font-size="13.33" fill="#111" text-anchor="end">Apr</text>
<text transform="translate(1367.9,861) rotate(-90)" font-size="13.33" fill="#111" text-anchor="end">May</text>
<text transform="translate(1422.6,861) rotate(-90)" font-size="13.33" fill="#111" text-anchor="end">Jun</text>
<rect x="1313" y="710.5" width="17" height="17" fill="#fcd61c"/>
<text x="1336.5" y="723.7" font-size="13.33" fill="#111">FY 2024</text>
<rect x="1313" y="735.5" width="17" height="17" fill="#a2cd3a"/>
<text x="1336.5" y="748.7" font-size="13.33" fill="#111">FY 2023</text>
<rect x="1313" y="760.5" width="17" height="17" fill="#4189c9"/>
<text x="1336.5" y="773.7" font-size="13.33" fill="#111">FY 2022</text>
<rect x="1313" y="785.5" width="17" height="17" fill="#e03127"/>
<text x="1336.5" y="798.7" font-size="13.33" fill="#111">FY 2021</text>
<!--/CHARTSVG-->
</svg>

<!-- FOOTER -->
<div class="abs small" style="left:18.5px;top:925px;line-height:16.3px;color:#222;white-space:nowrap;letter-spacing:-0.07px;">Data source: U.S. Census Bureau, Presence and type of internet subscriptions in households<br>(B28002), 2015-2019 American Community Survey 5-year estimates. Retrieved from<br><span style="color:#4894b6;text-decoration:underline;text-underline-offset:2.5px;text-decoration-thickness:1px;">https://data.census.gov/cedsci/table?q=b28002&amp;tid=ACSDT5Y2019.B28002</span></div>

<div class="abs small" style="left:736px;top:921.6px;font-weight:bold;color:#000;letter-spacing:-0.4px;">County</div>
<div class="abs" style="left:829px;top:916.5px;font-size:13.5px;color:#000;letter-spacing:-0.2px;">All</div>
<div class="abs small" style="left:1096px;top:921.6px;font-weight:bold;color:#000;letter-spacing:-0.4px;">Library</div>
<div class="abs" style="left:1188px;top:916.5px;font-size:13.5px;color:#000;letter-spacing:-0.2px;">All</div>
<div class="abs small" style="left:739px;top:962px;color:#111;white-space:nowrap;letter-spacing:-0.11px;">*Libraries that previously participated but are no longer actively lending hot spots.</div>

<div class="abs" style="left:15px;top:995px;width:1431px;height:22px;background:#ecedf1;"></div>
<div class="abs small" style="right:16px;top:997.3px;color:#1c3a80;white-space:nowrap;letter-spacing:-0.04px;">Last Updated 8/23/2023 10:21:40 AM. Updated based on receipt of statements from providers.</div>

</body>
</html>
